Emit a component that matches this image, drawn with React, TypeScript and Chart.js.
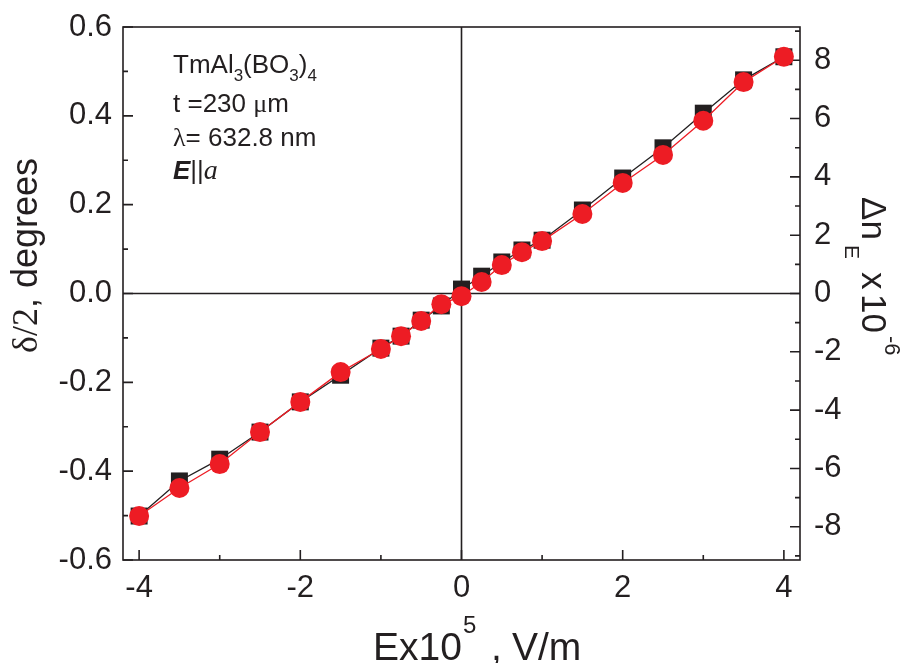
import React, { useEffect, useRef } from "react";
import { Chart, registerables } from "chart.js";

Chart.register(...registerables);

// ---- data ----
const fieldValues = [-4, -3.5, -3, -2.5, -2, -1.5, -1, -0.75, -0.5, -0.25, 0, 0.25, 0.5, 0.75, 1, 1.5, 2, 2.5, 3, 3.5, 4];
const blackSeries = [-0.501, -0.422, -0.373, -0.312, -0.244, -0.184, -0.123, -0.096, -0.060, -0.028, 0.010, 0.039, 0.071, 0.098, 0.120, 0.188, 0.260, 0.328, 0.406, 0.481, 0.533];
const redSeries = [-0.501, -0.438, -0.384, -0.312, -0.244, -0.177, -0.125, -0.096, -0.062, -0.024, -0.006, 0.026, 0.064, 0.093, 0.118, 0.179, 0.249, 0.312, 0.389, 0.476, 0.533];

const xMajorTicks = [-4, -2, 0, 2, 4];
const xMinorTicks = [-3, -1, 1, 3];
const leftMajorTicks = [-0.6, -0.4, -0.2, 0, 0.2, 0.4, 0.6];
const leftMinorTicks = [-0.5, -0.3, -0.1, 0.1, 0.3, 0.5];
const rightMajorTicks = [-8, -6, -4, -2, 0, 2, 4, 6, 8];
const rightMinorTicks = [-9, -7, -5, -3, -1, 1, 3, 5, 7, 9];

const RED = "#ED1C24";
const BLACK = "#231F20";
const SANS = "'Liberation Sans', Arial, Helvetica, sans-serif";
const SERIF = "'Liberation Serif', 'Times New Roman', serif";

type Seg = { text: string; font: string; dy?: number; at?: number };

function drawSegs(ctx: CanvasRenderingContext2D, segs: Seg[], x: number, y: number) {
  let cx = x;
  for (const s of segs) {
    if (s.at !== undefined) cx = x + s.at;
    ctx.font = s.font;
    ctx.fillText(s.text, cx, y + (s.dy || 0));
    cx += ctx.measureText(s.text).width;
  }
}

const decorPlugin = {
  id: "decor",
  beforeDatasetsDraw(chart: any) {
    const ctx: CanvasRenderingContext2D = chart.ctx;
    const { left, right, top, bottom } = chart.chartArea;
    const xs = chart.scales.x;
    const ys = chart.scales.y;
    const y2 = chart.scales.y2;
    ctx.save();
    ctx.strokeStyle = BLACK;
    ctx.lineWidth = 1.6;
    const x0 = xs.getPixelForValue(0);
    const yz = ys.getPixelForValue(0);
    ctx.beginPath();
    ctx.moveTo(x0, top);
    ctx.lineTo(x0, bottom);
    ctx.moveTo(left, yz);
    ctx.lineTo(right, yz);
    ctx.stroke();
    ctx.strokeRect(left, top, right - left, bottom - top);
    ctx.beginPath();
    const MAJ = 10, MIN = 5;
    for (const v of xMajorTicks) { const p = xs.getPixelForValue(v); ctx.moveTo(p, bottom); ctx.lineTo(p, bottom - MAJ); }
    for (const v of xMinorTicks) { const p = xs.getPixelForValue(v); ctx.moveTo(p, bottom); ctx.lineTo(p, bottom - MIN); }
    for (const v of leftMajorTicks) { const p = ys.getPixelForValue(v); ctx.moveTo(left, p); ctx.lineTo(left + MAJ, p); }
    for (const v of leftMinorTicks) { const p = ys.getPixelForValue(v); ctx.moveTo(left, p); ctx.lineTo(left + MIN, p); }
    for (const v of rightMajorTicks) { const p = y2.getPixelForValue(v); ctx.moveTo(right, p); ctx.lineTo(right - MAJ, p); }
    for (const v of rightMinorTicks) { const p = y2.getPixelForValue(v); ctx.moveTo(right, p); ctx.lineTo(right - MIN, p); }
    ctx.stroke();
    ctx.restore();
  },
  afterDraw(chart: any) {
    const ctx: CanvasRenderingContext2D = chart.ctx;
    ctx.save();
    ctx.fillStyle = BLACK;
    ctx.textBaseline = "alphabetic";
    ctx.textAlign = "left";
    const f = `26px ${SANS}`;
    const fs = `17px ${SANS}`;
    drawSegs(ctx, [
      { text: "TmAl", font: f },
      { text: "3", font: fs, dy: 8 },
      { text: "(BO", font: f },
      { text: "3", font: fs, dy: 8 },
      { text: ")", font: f },
      { text: "4", font: fs, dy: 8 },
    ], 173, 73);
    drawSegs(ctx, [
      { text: "t =230 ", font: f },
      { text: "\u03bc", font: `26px ${SERIF}` },
      { text: "m", font: f },
    ], 173, 112);
    drawSegs(ctx, [
      { text: "\u03bb", font: `26px ${SERIF}` },
      { text: "= 632.8 nm", font: f },
    ], 173, 146);
    drawSegs(ctx, [
      { text: "E", font: `italic bold 26px ${SANS}` },
      { text: "||", font: f },
      { text: "a", font: `italic 28px ${SERIF}` },
    ], 173, 179);

    // x title
    drawSegs(ctx, [
      { text: "Ex10", font: `39px ${SANS}` },
      { text: "5", font: `24px ${SANS}`, dy: -27, at: 90 },
      { text: ",", font: `39px ${SANS}`, at: 118 },
      { text: "V/m", font: `39px ${SANS}`, at: 139 },
    ], 373, 660);

    // left title
    ctx.save();
    ctx.translate(37, 353);
    ctx.rotate(-Math.PI / 2);
    drawSegs(ctx, [
      { text: "\u03b4/2", font: `36px ${SERIF}` },
      { text: ", degrees", font: `36px ${SANS}` },
    ], 0, 0);
    ctx.restore();

    // right title
    ctx.save();
    ctx.translate(862, 197);
    ctx.rotate(Math.PI / 2);
    drawSegs(ctx, [
      { text: "\u0394n", font: `35px ${SANS}` },
      { text: "E", font: `21px ${SANS}`, dy: 17, at: 48 },
      { text: "x", font: `35px ${SANS}`, at: 75 },
      { text: "10", font: `35px ${SANS}`, at: 97 },
      { text: "-6", font: `22px ${SANS}`, dy: -23, at: 139 },
    ], 0, 0);
    ctx.restore();

    ctx.restore();
  },
};

export default function App() {
  const ref = useRef<HTMLCanvasElement | null>(null);
  useEffect(() => {
    if (!ref.current) return;
    Chart.defaults.font.family = SANS;
    const tickFont = { size: 31, family: SANS };
    const zeroPad = (s: any) => { s.paddingTop = 0; s.paddingBottom = 0; s.paddingLeft = 0; s.paddingRight = 0; };
    const chart = new Chart(ref.current, {
      type: "line",
      data: {
        datasets: [
          {
            label: "red",
            data: fieldValues.map((x, i) => ({ x, y: redSeries[i] })),
            borderColor: RED,
            backgroundColor: RED,
            pointBackgroundColor: RED,
            pointStyle: "circle",
            pointRadius: 10,
            pointBorderWidth: 0,
            borderWidth: 1.3,
            tension: 0,
            order: 0,
            yAxisID: "y",
          },
          {
            label: "black",
            data: fieldValues.map((x, i) => ({ x, y: blackSeries[i] })),
            borderColor: BLACK,
            backgroundColor: BLACK,
            pointBackgroundColor: BLACK,
            pointStyle: "rect",
            pointRadius: 12,
            pointBorderWidth: 0,
            borderWidth: 1.3,
            tension: 0,
            order: 1,
            yAxisID: "y",
          },
        ],
      },
      options: {
        animation: false,
        responsive: true,
        maintainAspectRatio: false,
        layout: { padding: { top: 27, left: 0, right: 0, bottom: 0 }, autoPadding: false },
        plugins: { legend: { display: false }, tooltip: { enabled: false } },
        scales: {
          x: {
            type: "linear",
            min: -4.2,
            max: 4.2,
            afterBuildTicks: (s: any) => { s.ticks = xMajorTicks.map((v) => ({ value: v })); },
            afterFit: (s: any) => { s.height = 103; zeroPad(s); },
            grid: { display: false, drawTicks: false },
            border: { display: false },
            ticks: { font: tickFont, color: BLACK, padding: 10, maxRotation: 0, autoSkip: false, callback: (v: any) => String(v) },
          },
          y: {
            type: "linear",
            position: "left",
            min: -0.6,
            max: 0.6,
            afterBuildTicks: (s: any) => { s.ticks = leftMajorTicks.map((v) => ({ value: v })); },
            afterFit: (s: any) => { s.width = 123; zeroPad(s); },
            grid: { display: false, drawTicks: false },
            border: { display: false },
            ticks: { font: tickFont, color: BLACK, padding: 11, autoSkip: false, callback: (v: any) => Number(v).toFixed(1) },
          },
          y2: {
            type: "linear",
            position: "right",
            min: -9.14,
            max: 9.14,
            afterBuildTicks: (s: any) => { s.ticks = rightMajorTicks.map((v) => ({ value: v })); },
            afterFit: (s: any) => { s.width = 103; zeroPad(s); },
            grid: { display: false, drawTicks: false },
            border: { display: false },
            ticks: { font: tickFont, color: BLACK, padding: 14, autoSkip: false, callback: (v: any) => String(v) },
          },
        },
      },
      plugins: [decorPlugin],
    } as any);
    return () => chart.destroy();
  }, []);
  return (
    <div style={{ position: "fixed", left: 0, top: 0, width: 903, height: 663, background: "#fff" }}>
      <canvas ref={ref} />
    </div>
  );
}
